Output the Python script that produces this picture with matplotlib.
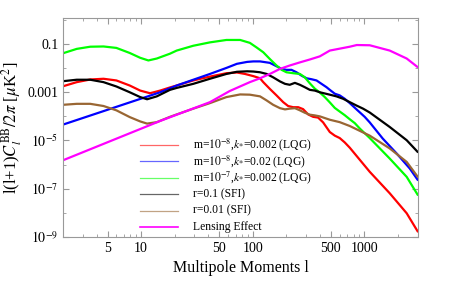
import numpy as np
import matplotlib
matplotlib.use('Agg')
import matplotlib.pyplot as plt
from matplotlib.ticker import FixedLocator, FuncFormatter

plt.rcParams['font.family'] = ['Liberation Serif', 'DejaVu Serif']
plt.rcParams['mathtext.fontset'] = 'stix'

# multipole l and log10 of l(l+1)C_l/2pi
l_red = [2, 2.65, 3.5, 4.6, 6.0, 7.9, 9.8, 12, 14.8, 18.1, 20.8, 29.3, 41.3, 58, 72, 85, 101, 116, 124, 142, 163, 187, 207, 230, 255, 282, 313, 347, 384, 426, 489, 542, 600, 665, 738, 1114, 1682, 2387, 3000]
c_red = [-2.75, -2.58, -2.47, -2.44, -2.51, -2.72, -2.93, -3.04, -2.93, -2.80, -2.72, -2.51, -2.35, -2.21, -2.18, -2.24, -2.33, -2.42, -2.58, -2.86, -3.13, -3.41, -3.57, -3.62, -3.62, -3.70, -3.92, -4.02, -4.05, -4.25, -4.65, -4.80, -4.90, -5.08, -5.30, -6.30, -7.19, -8.02, -8.78]

l_blue = [2, 14.8, 20.8, 29.3, 41.3, 58, 72, 89, 101, 116, 142, 163, 181, 200, 222, 246, 273, 303, 336, 372, 412, 457, 489, 542, 600, 665, 738, 853, 1004, 1114, 1456, 1941, 2540, 3000]
c_blue = [-4.34, -3.00, -2.72, -2.48, -2.24, -1.99, -1.82, -1.74, -1.72, -1.72, -1.78, -1.92, -2.03, -2.07, -2.07, -2.17, -2.31, -2.42, -2.46, -2.51, -2.65, -2.79, -2.90, -3.06, -3.13, -3.27, -3.45, -3.72, -4.02, -4.25, -4.92, -5.54, -6.16, -6.64]

l_green = [2, 2.65, 3.5, 4.6, 6.0, 7.9, 9.8, 11.6, 13.8, 18.1, 20.8, 29.3, 41.3, 58, 77, 94, 108, 124, 142, 163, 181, 200, 230, 264, 292, 324, 359, 398, 441, 489, 542, 600, 665, 738, 818, 906, 1004, 1114, 1682, 2387, 3000]
c_green = [-1.38, -1.20, -1.11, -1.10, -1.16, -1.37, -1.57, -1.68, -1.60, -1.40, -1.27, -1.07, -0.93, -0.83, -0.83, -0.95, -1.14, -1.34, -1.62, -1.89, -2.07, -2.17, -2.21, -2.24, -2.38, -2.63, -2.85, -3.01, -3.20, -3.42, -3.65, -3.80, -3.95, -4.12, -4.28, -4.50, -4.70, -4.90, -5.75, -6.51, -7.26]

l_black = [2, 2.65, 3.5, 4.6, 6.0, 7.9, 9.8, 11.3, 13.8, 18.1, 20.8, 29.3, 41.3, 58, 72, 89, 101, 116, 133, 152, 175, 194, 214, 238, 264, 292, 324, 359, 398, 441, 489, 561, 643, 738, 847, 971, 1114, 1682, 2387, 3000]
c_black = [-2.54, -2.48, -2.48, -2.58, -2.76, -3.00, -3.20, -3.29, -3.17, -2.90, -2.82, -2.65, -2.44, -2.24, -2.15, -2.13, -2.14, -2.17, -2.24, -2.38, -2.55, -2.65, -2.69, -2.61, -2.69, -2.79, -2.90, -2.93, -3.00, -3.05, -3.10, -3.17, -3.27, -3.41, -3.55, -3.68, -3.84, -4.44, -4.99, -5.48]

l_brown = [2, 2.65, 3.5, 4.6, 6.0, 7.9, 9.8, 11.3, 13.8, 18.1, 20.8, 29.3, 41.3, 58, 77, 94, 116, 133, 152, 175, 194, 214, 238, 264, 292, 324, 359, 398, 441, 489, 600, 738, 1114, 1682, 2387, 3000]
c_brown = [-3.52, -3.48, -3.48, -3.57, -3.75, -4.03, -4.21, -4.30, -4.24, -4.02, -3.92, -3.68, -3.45, -3.20, -3.09, -3.10, -3.17, -3.34, -3.52, -3.66, -3.71, -3.68, -3.66, -3.75, -3.85, -3.93, -3.96, -4.00, -4.07, -4.14, -4.24, -4.40, -4.80, -5.33, -5.89, -6.51]

l_lens = [2, 14.8, 41.3, 62, 94, 116, 142, 175, 214, 264, 324, 398, 489, 738, 853, 1114, 1682, 2387, 3000]
c_lens = [-5.82, -4.19, -3.41, -2.95, -2.58, -2.42, -2.24, -2.03, -1.89, -1.76, -1.64, -1.51, -1.27, -1.11, -1.04, -1.05, -1.27, -1.60, -1.96]

labels = [r'm=$10^{-8}$,$k_{*}$=0.002 (LQG)',
          r'm=$10^{-8}$,$k_{*}$=0.02 (LQG)',
          r'm=$10^{-7}$,$k_{*}$=0.002 (LQG)',
          'r=0.1 (SFI)',
          'r=0.01 (SFI)',
          'Lensing Effect']
colors = ['#ff0000', '#0000ff', '#00ff00', '#000000', '#996633', '#ff00ff']

fig = plt.figure(figsize=(4.71, 2.82), dpi=100)
ax = fig.add_axes([0.134, 0.16, 0.753, 0.776])

series = [(l_red, c_red), (l_blue, c_blue), (l_green, c_green),
          (l_black, c_black), (l_brown, c_brown), (l_lens, c_lens)]
for (l, c), col in zip(series, colors):
    ax.plot(l, 10.0 ** np.array(c), color=col, lw=1.6, solid_capstyle='round', solid_joinstyle='round')

ax.set_xscale('log')
ax.set_yscale('log')
ax.set_xlim(2, 3000)
ax.set_ylim(1e-9, 1.2)

ax.xaxis.set_major_locator(FixedLocator([5, 10, 50, 100, 500, 1000]))
ax.xaxis.set_major_formatter(FuncFormatter(lambda v, p: '%d' % v))
xminor = [2, 3, 4, 6, 7, 8, 9, 20, 30, 40, 60, 70, 80, 90, 200, 300, 400, 600, 700, 800, 900, 2000, 3000]
ax.xaxis.set_minor_locator(FixedLocator(xminor))
ax.xaxis.set_minor_formatter(FuncFormatter(lambda v, p: ''))

yt = [1e-9, 1e-7, 1e-5, 1e-3, 1e-1]
ylab = [r'$10^{-9}$', r'$10^{-7}$', r'$10^{-5}$', '0.001', '0.1']
ax.yaxis.set_major_locator(FixedLocator(yt))
ax.yaxis.set_major_formatter(FuncFormatter(lambda v, p: ylab[p] if p is not None and p < len(ylab) else ''))
ax.yaxis.set_minor_locator(FixedLocator([10.0 ** k for k in range(-9, 1)]))
ax.yaxis.set_minor_formatter(FuncFormatter(lambda v, p: ''))

ax.tick_params(which='both', direction='in', top=True, right=True, color='#999999', labelsize=10)
ax.tick_params(which='major', length=4)
ax.tick_params(which='minor', length=2)
for s in ax.spines.values():
    s.set_color('#999999')
    s.set_linewidth(0.8)

ax.set_xlabel('Multipole Moments l', fontsize=11.5)
ax.set_ylabel(r'l(l+1)$C_l^{\mathrm{BB}}/2\pi$ [$\mu$K$^2$]', fontsize=12, labelpad=2)

# legend laid out by hand so rows are evenly spaced
for i, (lab, col) in enumerate(zip(labels, colors)):
    yy = 0.42 - i * 0.075
    if i == 5:
        ax.plot([0.217, 0.324], [yy, yy], transform=ax.transAxes, color=col, lw=1.2)
    else:
        ax.plot([0.217, 0.324], [yy, yy], transform=ax.transAxes, color=col, lw=0.9, alpha=0.6)
    ax.text(0.366, yy, lab, transform=ax.transAxes, fontsize=8.4, va='center', ha='left')

fig.savefig('out.png', dpi=100)
